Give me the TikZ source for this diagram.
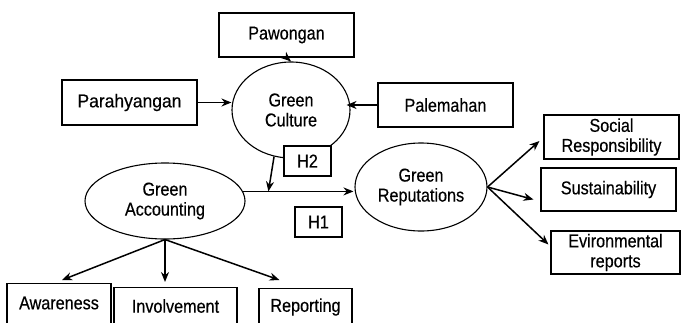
\documentclass[tikz,border=0pt]{standalone}
\usepackage{graphicx}
\usepackage{fontspec}
\setmainfont{Liberation Sans}[FakeStretch=0.87,FakeBold=0.4]
\usetikzlibrary{arrows.meta,calc,shapes.geometric}
\begin{document}
\begin{tikzpicture}[x=1pt,y=-1pt,
  every node/.style={font=\fontsize{18.6}{20}\selectfont, align=center, inner sep=0pt},
  box/.style={draw, line width=1.1pt, fill=white, minimum width=135pt, minimum height=44pt},
  hbox/.style={draw, line width=1.1pt, fill=white, minimum width=47pt, minimum height=30pt},
  oval/.style={draw, ellipse, line width=1.1pt},
  conn/.style={line width=1.5pt, -{Stealth[length=10pt,width=8pt]}}]
\useasboundingbox (0,0) rectangle (681,322);
\clip (0,0) rectangle (681,322);
% ellipses
\node[oval, minimum width=118pt, minimum height=96pt] (GC) at (291,110) {Green\\Culture};
\node[oval, minimum width=160pt, minimum height=76pt] (GA) at (165,201) {Green\\Accounting};
\node[oval, minimum width=132pt, minimum height=88pt] (GR) at (421,187) {Green\\Reputations};
% top boxes
\node[box] (Paw) at (286.5,35) {Pawongan};
\node[box, minimum height=45pt] (Par) at (129.5,102.5) {\scalebox{1.08}[1]{Parahyangan}};
\node[box] (Pal) at (445.5,105) {Palemahan};
\node[hbox] (H2) at (307.5,161) {H2};
\node[hbox] (H1) at (318.5,222) {H1};
% right boxes
\node[box] (Soc) at (611.5,137) {Social\\Responsibility};
\node[box, minimum height=43pt] (Sus) at (608.5,189.5) {Sustainability};
\node[box, minimum width=129pt, minimum height=43pt] (Env) at (615.5,252.5) {Evironmental\\reports};
% bottom boxes (cut by lower edge)
\node[draw, line width=1.1pt, minimum width=104pt, minimum height=60pt, anchor=north] (Aw) at (59,283) {};
\node at (59,303) {Awareness};
\node[draw, line width=1.1pt, minimum width=123pt, minimum height=60pt, anchor=north] (Inv) at (175.5,287) {};
\node at (175.5,306) {Involvement};
\node[draw, line width=1.1pt, minimum width=93pt, minimum height=60pt, anchor=north] (Rep) at (305.5,288) {};
\node at (305.5,307) {Reporting};
% connectors
\draw[conn] (Paw.south) -- (GC.north);
\draw[conn] (Par.east) -- (GC.west |- Par.east);
\draw[conn] (Pal.west) -- ($(GC.east |- Pal.west)+(-4,0)$);
\coordinate (Ls) at ($(GA.7)$);
\coordinate (Le) at ($(GR.west |- Ls)+(-1,0)$);
\draw[conn] (Ls) -- (Le);
\coordinate (m) at ($(Ls)!0.23!(Le)$);
\draw[conn] (GC.250) -- (m);
\draw[conn] (GA.south) -- ($(Aw.north)+(3,-3)$);
\draw[conn] (GA.south) -- ($(GA.south |- Inv.north)+(0,-5)$);
\draw[conn] (GA.south) -- ($(Rep.north west)+(21,-8)$);
\draw[conn] (GR.east) -- ($(Soc.west)+(-4,4)$);
\draw[conn] (GR.east) -- ($(Sus.west)+(-7,10)$);
\draw[conn] (GR.east) -- ($(Env.west)+(-2,-8)$);
\end{tikzpicture}
\end{document}
